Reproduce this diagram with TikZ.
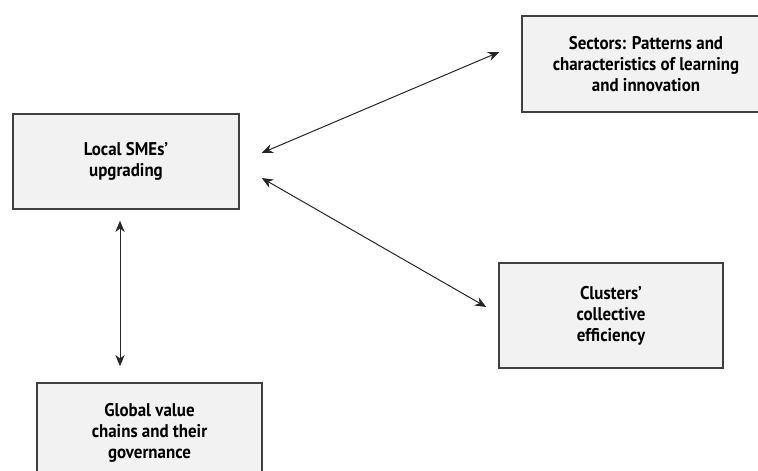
\documentclass[tikz,border=0pt]{standalone}
\usepackage{fontspec}
\setmainfont{PT Sans}[FakeStretch=0.92]
\usetikzlibrary{positioning,arrows.meta,calc}
\tikzset{
  box/.style={draw=black!75,line width=1.1pt,fill=black!5,align=center,
              font=\bfseries\fontsize{13.8}{15.75}\selectfont,inner sep=0pt},
  link/.style={{Stealth[length=8.5pt,width=7pt]}-{Stealth[length=8.5pt,width=7pt]},
               draw=black!85,line width=0.75pt},
}

\begin{document}
\begin{tikzpicture}[x=0.75pt,y=-0.75pt]
  % canvas (pixel grid of the figure)
  \useasboundingbox (0,0) rectangle (758,471);
  \clip (0,0) rectangle (758,471);
  % --- boxes ---
  \node[box,minimum width=169.5pt,minimum height=71.25pt] (local) at (126,161.5)
       {Local SMEs'\\upgrading};
  \node[box,minimum width=186pt,minimum height=72pt] (sectors) at (646,64)
       {Sectors: Patterns and\\characteristics of learning\\and innovation};
  \node[box,minimum width=168pt,minimum height=78.75pt] (clusters) at (611,315.5)
       {Clusters'\\collective\\efficiency};
  \node[box,minimum width=168.75pt,minimum height=75pt] (gvc) at (149.5,433)
       {Global value\\chains and their\\governance};
  % --- arrow ends ---
  \coordinate (a1) at ($(local.east)+(22,-8.5)$);
  \coordinate (b1) at ($(sectors.west)+(-22,-12)$);
  \coordinate (a2) at ($(local.east)+(22,16.5)$);
  \coordinate (b2) at ($(clusters.west)+(-12,-8.5)$);
  \coordinate (a3) at ($(local.south)+(-6,11)$);
  \coordinate (b3) at ($(gvc.north)+(-29.5,-16)$);
  % --- two-way links ---
  \draw[link] (a1) -- (b1);
  \draw[link] (a2) -- (b2);
  \draw[link] (a3) -- (b3);
\end{tikzpicture}
\end{document}
